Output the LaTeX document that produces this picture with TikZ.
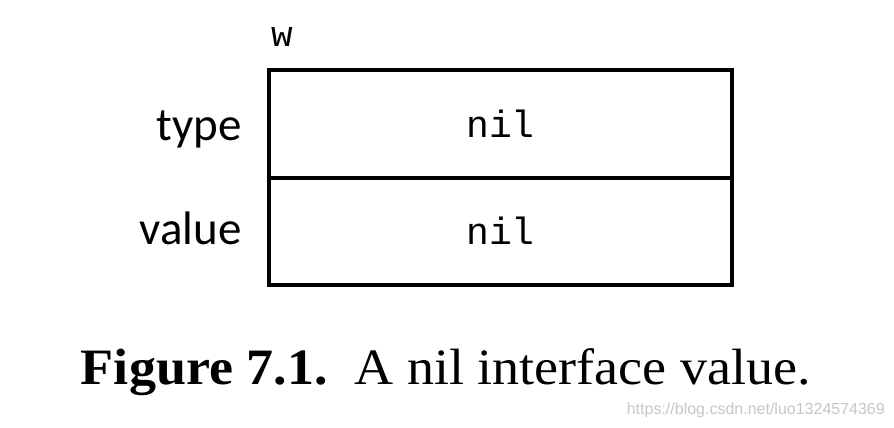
\documentclass[tikz,border=0pt]{standalone}
\usepackage{fontspec}
\setmainfont{Liberation Serif}
\newfontfamily\lblfont{Carlito}
\newfontfamily\monofont{Liberation Mono}
\newfontfamily\wmfont{Liberation Sans}
\begin{document}
\begin{tikzpicture}[x=1pt,y=-1pt,
  cell/.style={draw,line width=4pt,minimum width=463pt,minimum height=107pt,inner sep=0pt,font=\monofont\fontsize{38}{38}\selectfont},
  lbl/.style={anchor=base east,font=\lblfont\fontsize{47}{47}\selectfont,inner sep=0pt}]
\useasboundingbox (0,0) rectangle (894,428);
\fill[white] (0,0) rectangle (894,428);
\node[cell] (type) at (500.5,124) {nil};
\node[cell] (value) at (500.5,231) {nil};
\node[lbl] (tl) at (242,140) {type};
\node[lbl] (vl) at (242,244) {value};
\node[font=\monofont\fontsize{36}{36}\selectfont,inner sep=0pt] (w) at (282,37) {w};
\node[font=\fontsize{51}{51}\selectfont,inner sep=0pt,anchor=base] (cap) at (446,384) {\scalebox{1.06}[1]{\textbf{Figure 7.1.}\ \ A nil interface value.}};
\node[font=\wmfont\fontsize{16}{16}\selectfont,text=black!22,anchor=east,inner sep=0pt] (wm) at (885,410) {https://blog.csdn.net/luo1324574369};
\end{tikzpicture}
\end{document}
